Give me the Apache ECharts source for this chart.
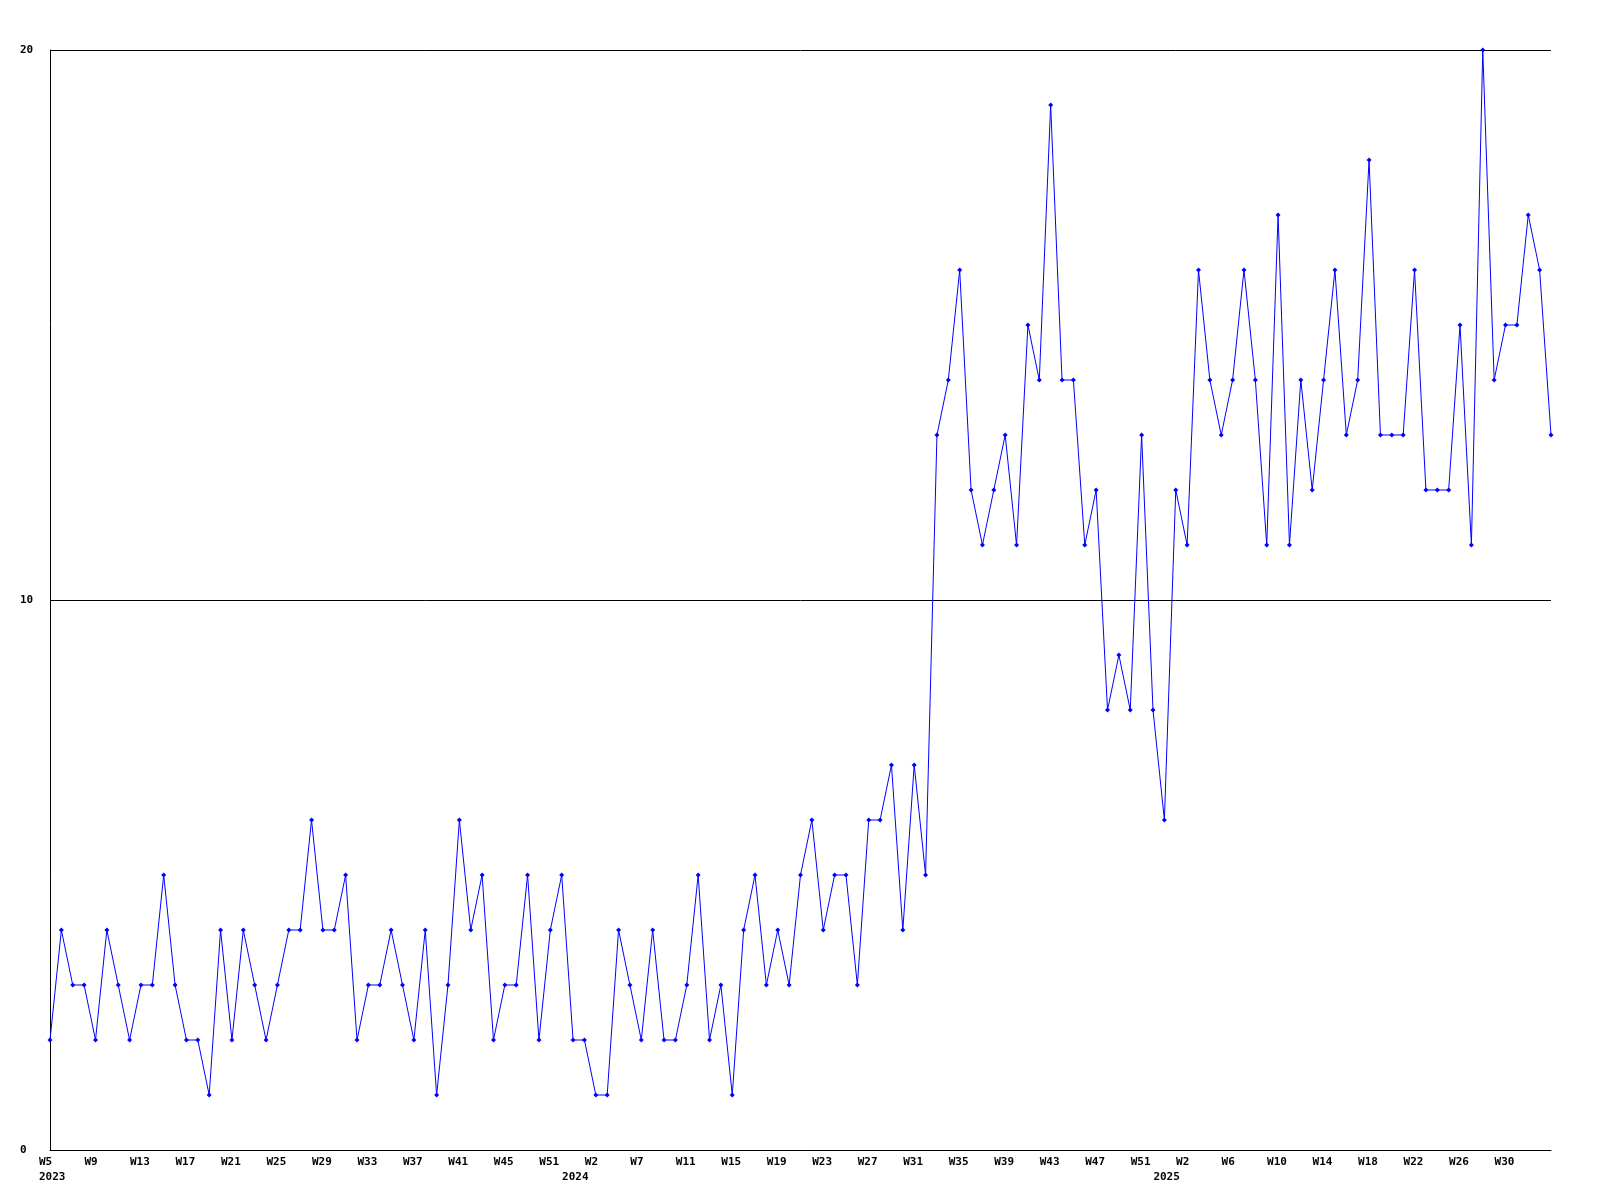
<!DOCTYPE html>
<html>
<head>
<meta charset="utf-8">
<script src="https://cdn.jsdelivr.net/npm/echarts@6/dist/echarts.min.js"></script>
<style>
  html, body { margin: 0; padding: 0; background: #ffffff; }
  #chart { width: 1600px; height: 1200px; }
</style>
</head>
<body>
<div id="chart"></div>
<script>
// Weekly values, one per week starting at W5 2023
const values = [
  2,4,3,3,2,4,3,2,3,3,5,3,2,2,1,4,2,4,3,2,3,4,4,6,4,
  4,5,2,3,3,4,3,2,4,1,3,6,4,5,2,3,3,5,2,4,5,2,2,1,1,4,
  3,2,4,2,2,3,5,2,3,1,4,5,3,4,3,5,6,4,5,5,3,6,6,7,
  4,7,5,13,14,16,12,11,12,13,11,15,14,19,14,14,11,12,
  8,9,8,13,8,6,12,11,16,14,13,14,16,14,11,17,11,14,12,
  14,16,13,14,18,13,13,13,16,12,12,12,15,11,20,14,15,15,17,16,13
];
// Week tick labels, one every 4 points
const tickStep = 4;
const weekLabels = ['W5','W9','W13','W17','W21','W25','W29','W33','W37','W41','W45','W51',
  'W2','W7','W11','W15','W19','W23','W27','W31','W35','W39','W43','W47','W51',
  'W2','W6','W10','W14','W18','W22','W26','W30'];
// Year labels and the point they sit under
const yearLabels = ['2023','2024','2025'];
const yearIndex = [0, 46, 98];
const yTicks = [0, 10, 20];

const categories = values.map((v, i) => String(i));

const labelFont = {
  fontFamily: 'DejaVu Sans Mono',
  fontWeight: 'bold',
  fontSize: 11,
  color: '#000'
};

const chart = echarts.init(document.getElementById('chart'), null, { renderer: 'canvas' });
chart.setOption({
  animation: false,
  backgroundColor: '#ffffff',
  grid: { left: 50, right: 49, top: 50, bottom: 50, containLabel: false },
  xAxis: [
    {
      type: 'category',
      data: categories,
      boundaryGap: false,
      axisLine: { show: true, lineStyle: { color: '#000', width: 1 } },
      axisTick: { show: false },
      splitLine: { show: false },
      axisLabel: Object.assign({
        show: true,
        interval: (i) => i % tickStep === 0,
        formatter: (v, i) => weekLabels[Math.round(i / tickStep)] || '',
        align: 'left',
        padding: [0, 0, 0, -11],
        margin: 7
      }, labelFont)
    },
    {
      type: 'category',
      data: categories,
      boundaryGap: false,
      position: 'bottom',
      axisLine: { show: false },
      axisTick: { show: false },
      splitLine: { show: false },
      axisLabel: Object.assign({
        show: true,
        interval: (i) => yearIndex.indexOf(i) >= 0,
        formatter: (v, i) => { const k = yearIndex.indexOf(i); return k >= 0 ? yearLabels[k] : ''; },
        align: 'left',
        padding: [0, 0, 0, -11],
        margin: 22
      }, labelFont)
    }
  ],
  yAxis: {
    type: 'value',
    min: yTicks[0],
    max: yTicks[yTicks.length - 1],
    interval: 10,
    axisLine: { show: true, lineStyle: { color: '#000', width: 1 } },
    axisTick: { show: false },
    splitLine: { show: true, lineStyle: { color: '#000', width: 1 } },
    axisLabel: Object.assign({
      show: true,
      align: 'left',
      margin: 30,
      padding: [2, 0, 0, 0]
    }, labelFont)
  },
  series: [{
    type: 'line',
    xAxisIndex: 0,
    data: values,
    symbol: 'diamond',
    symbolSize: 5,
    showAllSymbol: true,
    lineStyle: { color: '#0000ff', width: 1 },
    itemStyle: { color: '#0000ff', borderWidth: 0 },
    emphasis: { disabled: true }
  }]
});
</script>
</body>
</html>
